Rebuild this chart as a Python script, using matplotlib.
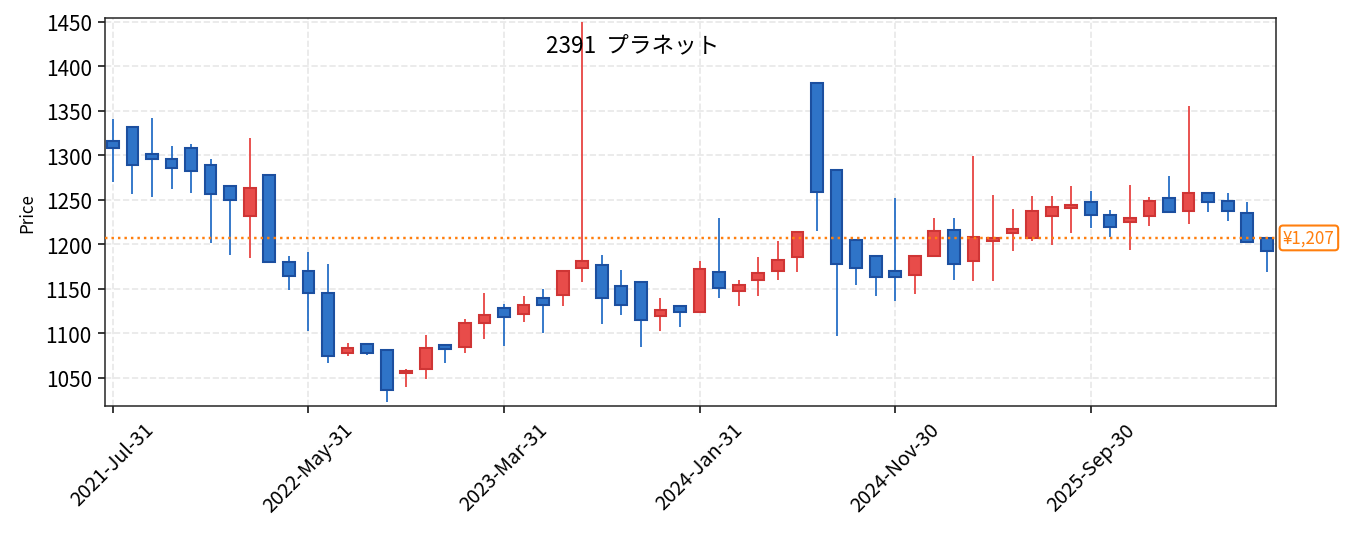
import matplotlib
matplotlib.use("Agg")
import matplotlib.pyplot as plt
import matplotlib.transforms as mtransforms
import pandas as pd

plt.rcParams['font.family'] = ['Noto Sans CJK JP', 'DejaVu Sans']

title = "2391  プラネット"
last_price = 1207

# monthly candles, Jul 2021 onwards
opens = [1316, 1332, 1301, 1296, 1308, 1289, 1265, 1232, 1278, 1180,
         1170, 1145, 1078, 1088, 1081, 1055, 1060, 1087, 1084, 1111,
         1128, 1121, 1140, 1143, 1173, 1177, 1153, 1157, 1119, 1131,
         1124, 1169, 1147, 1160, 1170, 1186, 1381, 1283, 1205, 1187,
         1170, 1165, 1187, 1216, 1181, 1203, 1212, 1207, 1232, 1241,
         1247, 1233, 1225, 1232, 1252, 1237, 1257, 1249, 1235, 1207]
highs = [1341, 1332, 1342, 1310, 1313, 1296, 1265, 1319, 1278, 1187,
         1191, 1178, 1089, 1088, 1081, 1060, 1098, 1087, 1116, 1145,
         1133, 1142, 1150, 1170, 1450, 1188, 1171, 1157, 1140, 1131,
         1181, 1229, 1160, 1186, 1204, 1214, 1381, 1283, 1205, 1187,
         1252, 1187, 1229, 1229, 1299, 1255, 1240, 1254, 1254, 1265,
         1260, 1238, 1266, 1253, 1277, 1355, 1259, 1257, 1247, 1207]
lows = [1270, 1256, 1253, 1262, 1258, 1201, 1188, 1184, 1179, 1149,
        1102, 1067, 1074, 1076, 1023, 1039, 1049, 1067, 1078, 1093,
        1086, 1113, 1100, 1131, 1158, 1110, 1120, 1085, 1103, 1107,
        1124, 1139, 1131, 1142, 1160, 1169, 1215, 1097, 1154, 1142,
        1136, 1144, 1187, 1160, 1159, 1159, 1192, 1203, 1199, 1212,
        1218, 1208, 1193, 1220, 1236, 1223, 1236, 1226, 1201, 1169]
closes = [1308, 1289, 1296, 1286, 1282, 1256, 1250, 1263, 1180, 1164,
          1145, 1074, 1083, 1078, 1036, 1058, 1083, 1082, 1111, 1120,
          1118, 1132, 1132, 1170, 1181, 1140, 1132, 1115, 1126, 1124,
          1172, 1151, 1154, 1168, 1182, 1214, 1259, 1178, 1173, 1163,
          1163, 1187, 1215, 1178, 1208, 1207, 1217, 1237, 1242, 1244,
          1233, 1219, 1229, 1249, 1236, 1257, 1247, 1237, 1202, 1192]

dates = pd.date_range("2021-07-31", periods=len(opens), freq="ME")
labels = [d.strftime("%Y-%b-%d") for d in dates]

up_fill, up_edge = "#e84c4a", "#cf3535"
dn_fill, dn_edge = "#2f74c8", "#1c4f9f"

fig = plt.figure(figsize=(10, 3.963), dpi=135.5)
ax = fig.add_axes([0.0775, 0.2426, 0.8642, 0.722])

x = list(range(len(opens)))
fills = [up_fill if c > o else dn_fill for o, c in zip(opens, closes)]
edges = [up_edge if c > o else dn_edge for o, c in zip(opens, closes)]
bottoms = [min(o, c) for o, c in zip(opens, closes)]
heights = [abs(c - o) for o, c in zip(opens, closes)]

ax.vlines(x, lows, highs, colors=fills, linewidth=1.0, zorder=2)
ax.bar(x, heights, bottom=bottoms, width=0.6, color=fills,
       edgecolor=edges, linewidth=1.1, zorder=3)

ax.axhline(last_price, color="#ff7f0e", linestyle=":", linewidth=1.3, zorder=4)
trans = mtransforms.blended_transform_factory(ax.transAxes, ax.transData)
ax.text(1.006, last_price, f"¥{last_price:,}", transform=trans, ha="left",
        va="center", fontsize=9, color="#ff7f0e",
        bbox=dict(boxstyle="round,pad=0.2", fc="white", ec="#ff7f0e", lw=1.1))

ax.text(0.4505, 0.931, title, transform=ax.transAxes, ha="center",
        va="center", fontsize=12)

ax.set_xlim(-0.4, 59.47)
ax.set_ylim(1018.5, 1454)
ax.set_yticks(range(1050, 1451, 50))
ax.set_xticks(x[::10])
ax.set_xticklabels(labels[::10], rotation=45, fontsize=10.5)
ax.tick_params(axis="y", labelsize=11)
ax.set_ylabel("Price", fontsize=9, labelpad=5)
ax.grid(True, linestyle="--", color="#e8e8e8", linewidth=0.9, zorder=0)
ax.set_axisbelow(True)
for s in ax.spines.values():
    s.set_color("#222222")

fig.savefig("out.png", dpi=135.5)
